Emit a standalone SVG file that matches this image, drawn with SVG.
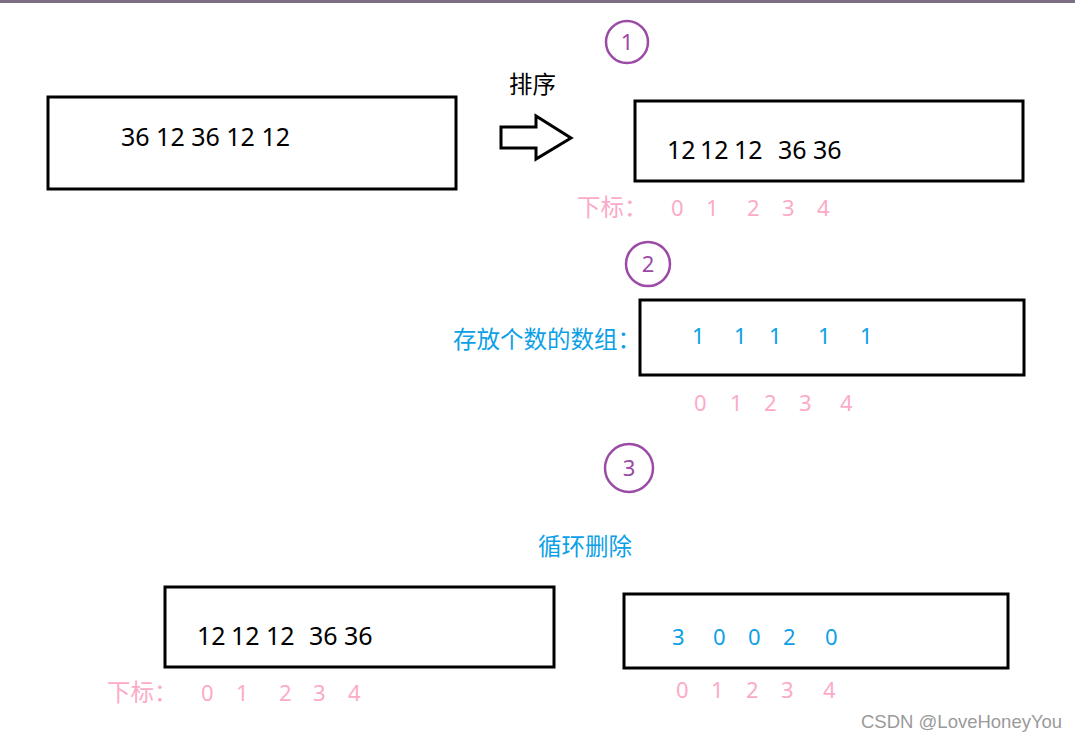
<svg xmlns="http://www.w3.org/2000/svg" width="1075" height="742" viewBox="0 0 1075 742">
<style>
.box{fill:#fff;stroke:#000;stroke-width:3}
.circ{fill:none;stroke:#9b4aa6;stroke-width:2.5}
.cn{font-family:"Noto Sans","Noto Sans CJK SC",sans-serif;font-size:22px;fill:#9b4aa6;text-anchor:middle}
.blk{font-family:"Noto Sans","Noto Sans CJK SC",sans-serif;font-size:25px;fill:#000}
.blue{font-family:"Noto Sans","Noto Sans CJK SC",sans-serif;font-size:22px;fill:#0ca0e6}
.bluecjk{font-family:"Noto Sans CJK SC",sans-serif;font-size:23.5px;fill:#0ca0e6}
.pink{font-family:"Noto Sans","Noto Sans CJK SC",sans-serif;font-size:22px;fill:#fbabc8}
.pinkcjk{font-family:"Noto Sans CJK SC",sans-serif;font-size:23.5px;fill:#fbabc8}
.wm{font-family:"Liberation Sans",Arial,sans-serif;font-size:18.5px;fill:#9a9a9a}
</style>
<rect x="0" y="0" width="1075" height="3" fill="#7d6e85"/>
<g id="step1">
<circle class="circ" cx="627" cy="42" r="21"/>
<text class="cn" x="627" y="50">1</text>
</g>
<g id="box-original">
<rect class="box" x="48" y="97" width="408" height="92"/>
<text class="blk" x="121" y="146">36 12 36 12 12</text>
</g>
<g id="sort-label">
<text x="509" y="93" font-family="Noto Sans CJK SC,sans-serif" font-size="23.5" fill="#000">排序</text>
</g>
<g id="connectors">
<polygon points="501,127 536,127 536,116 571,138 536,159 536,148 501,148" fill="#fff" stroke="#000" stroke-width="3" stroke-linejoin="miter"/>
</g>
<g id="box-sorted">
<rect class="box" x="635" y="101" width="388" height="80"/>
<text class="blk" y="159"><tspan x="667">12</tspan><tspan x="700">12</tspan><tspan x="734">12</tspan><tspan x="778">36</tspan><tspan x="813">36</tspan></text>
<text class="pinkcjk" x="577" y="216">下标：</text>
<text class="pink" y="216"><tspan x="671">0</tspan><tspan x="706">1</tspan><tspan x="747">2</tspan><tspan x="782">3</tspan><tspan x="817">4</tspan></text>
</g>
<g id="step2">
<circle class="circ" cx="648" cy="264" r="22"/>
<text class="cn" x="648" y="272">2</text>
</g>
<g id="box-count">
<text class="bluecjk" x="453" y="348">存放个数的数组：</text>
<rect class="box" x="640" y="300" width="384" height="75"/>
<text class="blue" y="344"><tspan x="692">1</tspan><tspan x="734">1</tspan><tspan x="769">1</tspan><tspan x="818">1</tspan><tspan x="860">1</tspan></text>
<text class="pink" y="411"><tspan x="694">0</tspan><tspan x="730">1</tspan><tspan x="764">2</tspan><tspan x="799">3</tspan><tspan x="840">4</tspan></text>
</g>
<g id="step3">
<circle class="circ" cx="629" cy="468" r="24"/>
<text class="cn" x="629" y="476">3</text>
<text class="bluecjk" x="538" y="555">循环删除</text>
</g>
<g id="box-result-values">
<rect class="box" x="165" y="587" width="389" height="80"/>
<text class="blk" y="645"><tspan x="197">12</tspan><tspan x="231">12</tspan><tspan x="266">12</tspan><tspan x="309">36</tspan><tspan x="344">36</tspan></text>
<text class="pinkcjk" x="107" y="701">下标：</text>
<text class="pink" y="701"><tspan x="201">0</tspan><tspan x="236">1</tspan><tspan x="279">2</tspan><tspan x="313">3</tspan><tspan x="348">4</tspan></text>
</g>
<g id="box-result-counts">
<rect class="box" x="624" y="594" width="384" height="74"/>
<text class="blue" y="645"><tspan x="672">3</tspan><tspan x="713">0</tspan><tspan x="748">0</tspan><tspan x="783">2</tspan><tspan x="825">0</tspan></text>
<text class="pink" y="698"><tspan x="676">0</tspan><tspan x="711">1</tspan><tspan x="746">2</tspan><tspan x="781">3</tspan><tspan x="823">4</tspan></text>
</g>
<text class="wm" x="861" y="728">CSDN @LoveHoneyYou</text>
</svg>
